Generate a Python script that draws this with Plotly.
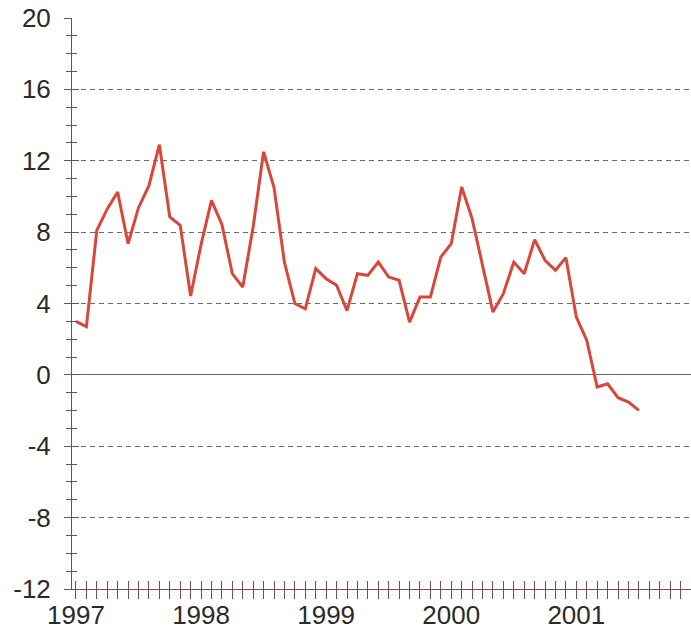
"""Monthly growth rate, 1997-2001 (line chart with crossing ticks)
"""
import plotly.graph_objects as go

# monthly values, Jan 1997 .. Jul 2001
values = [
    3.0, 2.7, 8.1, 9.3, 10.25, 7.35, 9.37, 10.6, 12.9, 8.85, 8.38, 4.42,
    7.3, 9.78, 8.43, 5.67, 4.92, 8.3, 12.5, 10.5, 6.3, 4.0, 3.7, 5.95,
    5.39, 5.02, 3.6, 5.67, 5.58, 6.32, 5.48, 5.3, 2.96, 4.36, 4.36, 6.6,
    7.35, 10.53, 8.76, 6.14, 3.52, 4.55, 6.32, 5.67, 7.58, 6.42, 5.86, 6.57,
    3.24, 1.93, -0.68, -0.5, -1.28, -1.52, -1.99,
]
months = list(range(len(values)))
years = ["1997", "1998", "1999", "2000", "2001"]

n_ticks = 59
tick_vals = list(range(n_ticks))
tick_text = [years[i // 12] if i % 12 == 0 and i // 12 < len(years) else ""
             for i in tick_vals]

y_major = list(range(-12, 21, 4))
y_text = [str(v) for v in y_major]  # plain hyphen minus like the print
grid_vals = [v for v in y_major if v not in (-12, 0, 20)]

axis_col = "#7a4a58"
font = dict(family="Liberation Sans, Arial, sans-serif", size=26, color="#2a2a2a")
xrange = [-0.38, 59.0]
yrange = [-12, 20]

fig = go.Figure()
fig.add_trace(go.Scatter(
    x=months, y=values, mode="lines",
    line=dict(color="#d9473a", width=3),
    xaxis="x", yaxis="y", showlegend=False, hoverinfo="skip"))
# empty traces so the overlay axes get drawn
fig.add_trace(go.Scatter(x=[None], y=[None], xaxis="x2", yaxis="y2",
                         showlegend=False))
fig.add_trace(go.Scatter(x=[None], y=[None], xaxis="x", yaxis="y3",
                         showlegend=False))

fig.update_layout(
    width=691, height=633,
    margin=dict(l=72, r=0, t=18, b=44),
    paper_bgcolor="white", plot_bgcolor="rgba(0,0,0,0)",
    font=font,
    xaxis=dict(
        range=xrange, showline=True, linecolor=axis_col, linewidth=1,
        tickmode="array", tickvals=tick_vals, showticklabels=False,
        ticks="outside", ticklen=9, tickwidth=1, tickcolor=axis_col,
        showgrid=False, zeroline=False, automargin=False),
    # inside half of the crossing ticks; carries the year labels
    xaxis2=dict(
        range=xrange, overlaying="x", anchor="y", side="bottom",
        tickmode="array", tickvals=tick_vals, ticktext=tick_text,
        ticks="inside", ticklen=8, tickwidth=1, tickcolor=axis_col,
        ticklabelstandoff=8, tickfont=font,
        showgrid=False, zeroline=False, showline=False, automargin=False),
    yaxis=dict(
        range=yrange, showline=True, linecolor=axis_col, linewidth=1,
        tickmode="array", tickvals=y_major, ticktext=y_text,
        ticks="outside", ticklen=7, tickwidth=1, tickcolor=axis_col,
        ticklabelstandoff=8,
        minor=dict(dtick=1, tick0=0, ticks="outside", ticklen=5,
                   tickcolor=axis_col, tickwidth=1, showgrid=False),
        showgrid=False, zeroline=False, tickfont=font, automargin=False),
    yaxis2=dict(
        range=yrange, overlaying="y", anchor="x", side="left",
        tickmode="array", tickvals=y_major, showticklabels=False,
        ticks="inside", ticklen=7, tickwidth=1, tickcolor=axis_col,
        minor=dict(dtick=1, tick0=0, ticks="inside", ticklen=5,
                   tickcolor=axis_col, tickwidth=1, showgrid=False),
        showgrid=False, zeroline=False, showline=False, automargin=False),
    yaxis3=dict(
        range=yrange, overlaying="y", anchor="x", side="left",
        tickmode="array", tickvals=grid_vals, showticklabels=False,
        ticks="", showgrid=True, gridcolor="#6a6a6a", gridwidth=1,
        griddash="5px,4px", zeroline=True, zerolinecolor="#666666",
        zerolinewidth=1.2, showline=False, automargin=False),
)

# the page's default body margin would shift the chart, drop it
fig.write_html("out.html", config={"displayModeBar": False},
               post_script="document.body.style.margin='0';"
                           "document.body.style.overflow='hidden';")
